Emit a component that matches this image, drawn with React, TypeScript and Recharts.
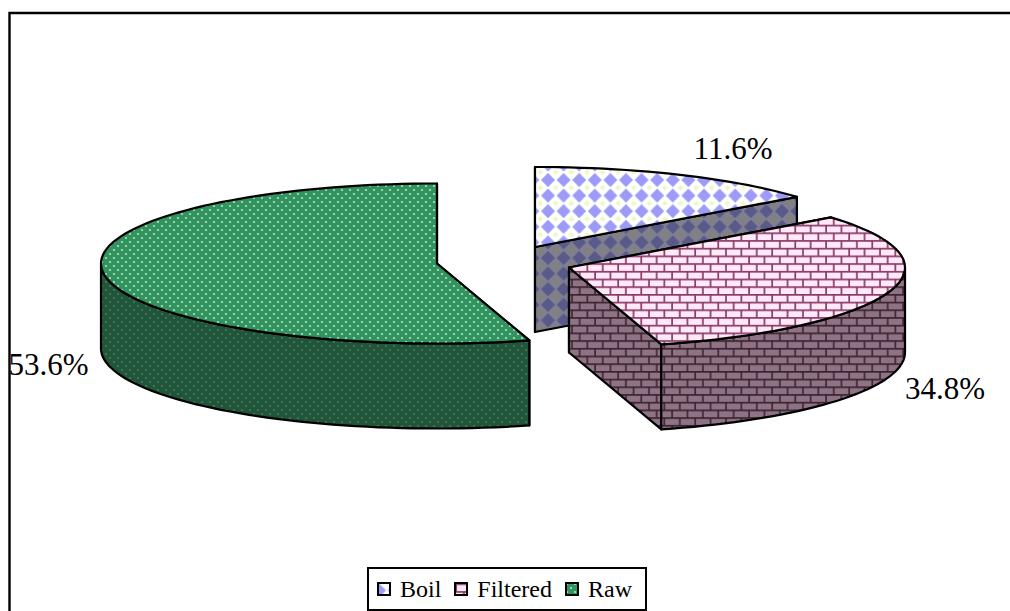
import { Legend, Pie, PieChart } from 'recharts';

const categories = ['Boil', 'Filtered', 'Raw'];
const shares = [11.6, 34.8, 53.6];

const FONT = '"Liberation Serif", "Times New Roman", serif';
const WIDTH = 1010;
const HEIGHT = 611;

// Pie geometry: a flat ellipse with a fixed wall height below it
const CENTER_X = 500;
const CENTER_Y = 263;
const RADIUS_X = 336;
const RADIUS_Y = 80;
const DEPTH = 85;

// How far each slice is pulled away from the pie centre
const explode = [
  { dx: 35, dy: -16 },
  { dx: 69, dy: 4.5 },
  { dx: -63, dy: 0.5 },
];
const labelSpots = [
  { x: 733, y: 159 },
  { x: 945, y: 399 },
  { x: 48.5, y: 375 },
];

const topFill = ['url(#boilTop)', 'url(#filteredTop)', 'url(#rawTop)'];
const wallFill = ['url(#boilWall)', 'url(#filteredWall)', 'url(#rawWall)'];

const tableData = categories.map((name, i) => ({ name, value: shares[i], fill: topFill[i] }));

const rad = (deg: number) => (deg * Math.PI) / 180;

// Foreshortening of the tilted disc: clockwise-from-top angle to ellipse parameter
const tiltAngle = (deg: number) =>
  deg + 9.9 * Math.sin(rad(2 * deg)) - 1.7 * Math.sin(rad(4 * deg));

const rimPoints = (cx: number, cy: number, from: number, to: number, drop = 0) => {
  const pts: string[] = [];
  const steps = Math.max(1, Math.ceil(Math.abs(to - from) / 2));
  for (let i = 0; i <= steps; i++) {
    const t = from + ((to - from) * i) / steps;
    const x = cx + RADIUS_X * Math.sin(rad(t));
    const y = cy - RADIUS_Y * Math.cos(rad(t)) + drop;
    pts.push(`${x.toFixed(1)},${y.toFixed(1)}`);
  }
  return pts;
};

const radialFace = (cx: number, cy: number, t: number) => {
  const x = cx + RADIUS_X * Math.sin(rad(t));
  const y = cy - RADIUS_Y * Math.cos(rad(t));
  return `${cx},${cy} ${x},${y} ${x},${y + DEPTH} ${cx},${cy + DEPTH}`;
};

function Slice3D(props: any) {
  const i = categories.indexOf(props.name);
  const cx = props.cx + explode[i].dx;
  const cy = props.cy + explode[i].dy;
  // Recharts angles run anticlockwise from 3 o'clock
  const t0 = tiltAngle(90 - props.startAngle);
  const t1 = tiltAngle(90 - props.endAngle);
  const wallFrom = Math.max(t0, 90);
  const wallTo = Math.min(t1, 270);
  const edge = { stroke: '#000', strokeWidth: 2.2, strokeLinejoin: 'round' as const };
  return (
    <g>
      <polygon points={radialFace(cx, cy, t0)} fill={wallFill[i]} {...edge} />
      <polygon points={radialFace(cx, cy, t1)} fill={wallFill[i]} {...edge} />
      {wallTo > wallFrom && (
        <polygon
          points={[
            ...rimPoints(cx, cy, wallFrom, wallTo),
            ...rimPoints(cx, cy, wallTo, wallFrom, DEPTH),
          ].join(' ')}
          fill={wallFill[i]}
          {...edge}
        />
      )}
      <polygon
        points={[`${cx},${cy}`, ...rimPoints(cx, cy, t0, t1)].join(' ')}
        fill={topFill[i]}
        {...edge}
      />
    </g>
  );
}

const renderLabel = (props: any) => {
  const i = categories.indexOf(props.name);
  return (
    <text
      x={labelSpots[i].x}
      y={labelSpots[i].y}
      textAnchor="middle"
      fontFamily={FONT}
      fontSize={31}
      fill="#000"
    >
      {`${shares[i].toFixed(1)}%`}
    </text>
  );
};

function LegendBox({ payload }: any) {
  return (
    <div
      style={{
        boxSizing: 'border-box',
        height: 44,
        border: '2px solid #000',
        background: '#fff',
        display: 'flex',
        alignItems: 'center',
        paddingLeft: 8,
        fontFamily: FONT,
        fontSize: 24,
        color: '#000',
      }}
    >
      {(payload ?? []).map((entry: any) => (
        <span key={entry.value} style={{ display: 'flex', alignItems: 'center', marginRight: 13 }}>
          <svg width={14} height={14} style={{ marginRight: 9 }}>
            <rect x={1} y={1} width={12} height={12} fill={entry.payload?.fill ?? entry.color} stroke="#000" strokeWidth={2} />
          </svg>
          {entry.value}
        </span>
      ))}
    </div>
  );
}

function Patterns() {
  return (
    <defs>
      <pattern id="boilTop" patternUnits="userSpaceOnUse" x={540.2} y={172.2} width={15.6} height={15.6}>
        <rect width={15.6} height={15.6} fill="#fff" />
        <polygon points="7.8,0.8 14.8,7.8 7.8,14.8 0.8,7.8" fill="#9c9cf8" />
        <polygon points="0,-3 3,0 0,3 -3,0" fill="#f0f6cc" />
        <polygon points="15.6,-3 18.6,0 15.6,3 12.6,0" fill="#f0f6cc" />
        <polygon points="0,12.6 3,15.6 0,18.6 -3,15.6" fill="#f0f6cc" />
        <polygon points="15.6,12.6 18.6,15.6 15.6,18.6 12.6,15.6" fill="#f0f6cc" />
      </pattern>
      <pattern id="boilWall" patternUnits="userSpaceOnUse" x={540.2} y={172.2} width={15.6} height={15.6}>
        <rect width={15.6} height={15.6} fill="#7f7f90" />
        <polygon points="7.8,0.8 14.8,7.8 7.8,14.8 0.8,7.8" fill="#59598a" />
        <polygon points="0,-3 3,0 0,3 -3,0" fill="#83836f" />
        <polygon points="15.6,-3 18.6,0 15.6,3 12.6,0" fill="#83836f" />
        <polygon points="0,12.6 3,15.6 0,18.6 -3,15.6" fill="#83836f" />
        <polygon points="15.6,12.6 18.6,15.6 15.6,18.6 12.6,15.6" fill="#83836f" />
      </pattern>
      <pattern id="filteredTop" patternUnits="userSpaceOnUse" x={569} y={217} width={15.4} height={15.4}>
        <rect width={15.4} height={15.4} fill="#ffe8f8" />
        <path d="M0 0.9H15.4M0 8.6H15.4M3 0V7.7M10.7 7.7V15.4" stroke="#8a3a66" strokeWidth={1.7} fill="none" />
      </pattern>
      <pattern id="filteredWall" patternUnits="userSpaceOnUse" x={569} y={217} width={15.4} height={15.4}>
        <rect width={15.4} height={15.4} fill="#8c7385" />
        <path d="M0 0.9H15.4M0 8.6H15.4M3 0V7.7M10.7 7.7V15.4" stroke="#40222f" strokeWidth={1.6} fill="none" />
      </pattern>
      <pattern id="rawTop" patternUnits="userSpaceOnUse" width={8} height={8}>
        <rect width={8} height={8} fill="#33935f" />
        <circle cx={2} cy={2} r={1.1} fill="#a8e6c4" />
        <circle cx={6} cy={6} r={1.1} fill="#a8e6c4" />
      </pattern>
      <pattern id="rawWall" patternUnits="userSpaceOnUse" width={8} height={8}>
        <rect width={8} height={8} fill="#215539" />
        <circle cx={2} cy={2} r={1.1} fill="#447a5e" />
        <circle cx={6} cy={6} r={1.1} fill="#447a5e" />
      </pattern>
    </defs>
  );
}

export default function App() {
  return (
    <div style={{ position: 'absolute', left: 0, top: 0, width: WIDTH, height: HEIGHT, overflow: 'hidden', background: '#fff' }}>
      <PieChart width={WIDTH} height={HEIGHT} margin={{ top: 0, right: 0, bottom: 0, left: 0 }}>
        <Patterns />
        {/* frame: only the top and left edges fall inside the page */}
        <path d="M9.5 611V13H1010" fill="none" stroke="#000" strokeWidth={2.4} />
        <Pie
          data={tableData}
          dataKey="value"
          nameKey="name"
          cx={CENTER_X}
          cy={CENTER_Y}
          innerRadius={0}
          outerRadius={RADIUS_X}
          startAngle={90}
          endAngle={-270}
          shape={Slice3D}
          label={renderLabel}
          labelLine={false}
          isAnimationActive={false}
        />
        <Legend
          content={LegendBox}
          wrapperStyle={{ left: 367, top: 567, width: 280, bottom: 'auto' }}
        />
      </PieChart>
    </div>
  );
}
